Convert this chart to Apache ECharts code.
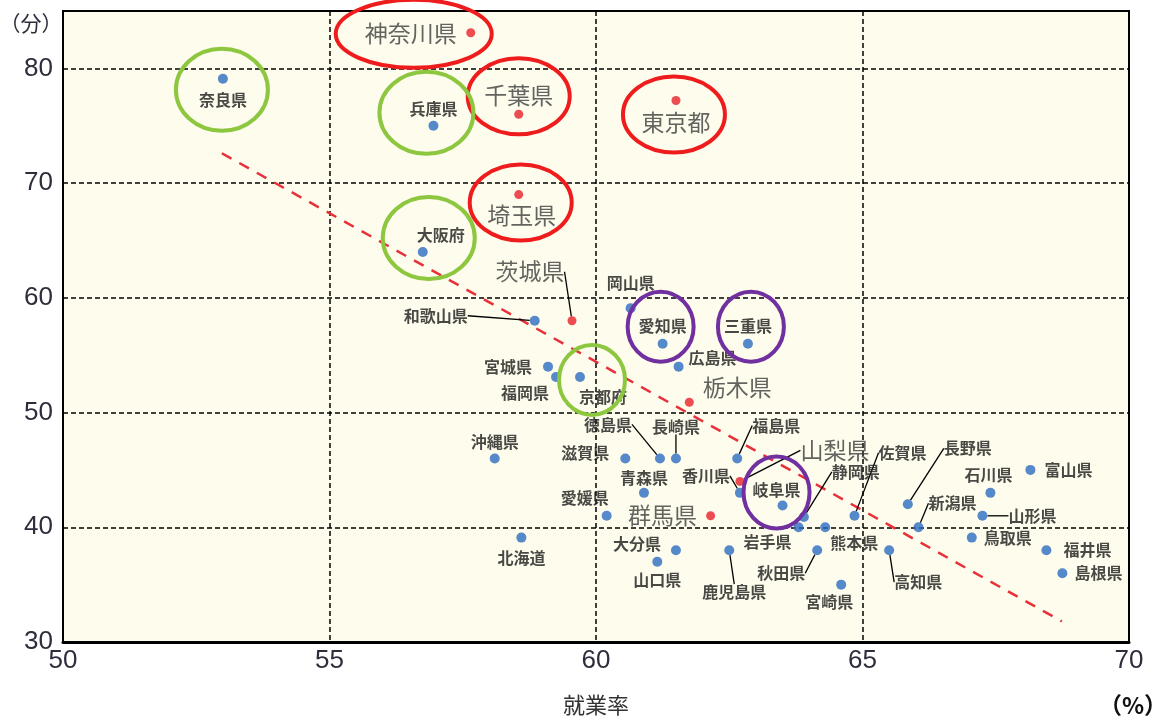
<!DOCTYPE html>
<html>
<head>
<meta charset="utf-8">
<script src="https://cdn.jsdelivr.net/npm/echarts@6/dist/echarts.min.js"></script>
<style>
  html, body { margin: 0; padding: 0; background: #fff; }
  #main { width: 1162px; height: 723px; }
</style>
</head>
<body>
<div id="main"></div>
<script>
// 都道府県別 就業率(%) と 通勤時間(分)
var prefNames = ['北海道','青森県','岩手県','宮城県','秋田県','山形県','福島県','茨城県','栃木県','群馬県',
  '埼玉県','千葉県','東京都','神奈川県','新潟県','富山県','石川県','福井県','山梨県','長野県',
  '岐阜県','静岡県','愛知県','三重県','滋賀県','京都府','大阪府','兵庫県','奈良県','和歌山県',
  '鳥取県','島根県','岡山県','広島県','山口県','徳島県','香川県','愛媛県','高知県','福岡県',
  '佐賀県','長崎県','熊本県','大分県','宮崎県','鹿児島県','沖縄県'];
var employRate = [58.6, 60.9, 63.8, 59.1, 64.15, 67.25, 62.65, 59.55, 61.75, 62.15,
  58.55, 58.55, 61.5, 57.65, 66.05, 68.15, 67.4, 68.45, 62.7, 65.85,
  63.5, 63.9, 61.25, 62.85, 60.55, 59.7, 56.75, 56.95, 53.0, 58.85,
  67.05, 68.75, 60.65, 61.55, 61.15, 61.2, 62.7, 60.2, 65.5, 59.25,
  64.85, 61.5, 64.3, 61.5, 64.6, 62.5, 58.1];
var commuteMin = [39.1, 43.0, 40.0, 54.0, 38.0, 41.0, 46.0, 58.0, 50.9, 41.0,
  69.0, 76.0, 77.2, 83.1, 40.0, 45.0, 43.0, 38.0, 44.0, 42.0,
  41.9, 40.9, 56.0, 56.0, 46.0, 53.1, 64.0, 75.0, 79.1, 58.0,
  39.1, 36.0, 59.1, 54.0, 37.0, 46.0, 43.0, 41.0, 38.0, 53.1,
  41.0, 46.0, 40.0, 38.0, 35.0, 38.0, 46.0];
var kantoPrefs = ['茨城県','栃木県','群馬県','埼玉県','千葉県','東京都','神奈川県','山梨県'];
var xTicks = [50, 55, 60, 65, 70];
var yTicks = [30, 40, 50, 60, 70, 80];
var trendX = [52.98, 68.74];
var trendY = [72.6, 31.8];

// ラベル位置 [dx, dy, 引出線]
var labelPos = {
  '北海道':[0,20], '青森県':[0,-15], '岩手県':[-31,15], '宮城県':[-40,0], '秋田県':[-36,23,1],
  '山形県':[50,0,1], '福島県':[39,-33,1], '茨城県':[-42,-49,1], '栃木県':[48,-15], '群馬県':[-48,-1],
  '埼玉県':[3,21], '千葉県':[0,-19], '東京都':[0,22], '神奈川県':[-60,0], '新潟県':[34,-24,1],
  '富山県':[38,0], '石川県':[-2,-18], '福井県':[41,0], '山梨県':[95,-31,1], '長野県':[60,-56,1],
  '岐阜県':[-6,-16], '静岡県':[52,-45,1], '愛知県':[0,-18], '三重県':[0,-18], '滋賀県':[-40,-6],
  '京都府':[23,20], '大阪府':[18,-17], '兵庫県':[0,-17], '奈良県':[0,21], '和歌山県':[-99,-5,1],
  '鳥取県':[36,0], '島根県':[36,0], '岡山県':[0,-25], '広島県':[34,-9], '山口県':[0,18],
  '徳島県':[-52,-34,1], '香川県':[-34,-17,1], '愛媛県':[-22,-18], '高知県':[29,32,1], '福岡県':[-31,16],
  '佐賀県':[48,-63,1], '長崎県':[0,-32,1], '熊本県':[29,16], '大分県':[-39,-6], '宮崎県':[-12,17],
  '鹿児島県':[5,42,1], '沖縄県':[0,-17]
};

// 囲み (点からのずれ, 半径)
var rings = [
  { name: '神奈川県', dx: -57, dy: 1, rx: 78, ry: 34, color: '#ee1c1c' },
  { name: '千葉県', dx: 0, dy: -18, rx: 51, ry: 38, color: '#ee1c1c' },
  { name: '東京都', dx: -2, dy: 14, rx: 51, ry: 38, color: '#ee1c1c' },
  { name: '埼玉県', dx: 2, dy: 8, rx: 51, ry: 38, color: '#ee1c1c' },
  { name: '奈良県', dx: -1, dy: 11, rx: 46, ry: 41, color: '#8dc63f' },
  { name: '兵庫県', dx: -7, dy: -13, rx: 47, ry: 41, color: '#8dc63f' },
  { name: '大阪府', dx: 6, dy: -14, rx: 46, ry: 41, color: '#8dc63f' },
  { name: '京都府', dx: 12, dy: 3, rx: 33, ry: 35, color: '#8dc63f' },
  { name: '愛知県', dx: -2, dy: -17, rx: 33, ry: 35, color: '#7030a0' },
  { name: '三重県', dx: 3, dy: -17, rx: 33, ry: 35, color: '#7030a0' },
  { name: '岐阜県', dx: -6, dy: -13, rx: 33, ry: 36, color: '#7030a0' }
];

var blueData = [], redData = [];
prefNames.forEach(function (n, i) {
  var p = labelPos[n] || [0, 0];
  var item = { name: n, value: [employRate[i], commuteMin[i]], labelLine: { show: !!p[2] } };
  if (kantoPrefs.indexOf(n) >= 0) redData.push(item); else blueData.push(item);
});

var smallLabel = {
  show: true, position: 'inside', formatter: '{b}',
  fontFamily: 'Noto Sans CJK JP', fontSize: 16, fontWeight: 'bold', color: '#1a1a1a'
};
var bigLabel = {
  show: true, position: 'inside', formatter: '{b}',
  fontFamily: 'Noto Sans CJK JP', fontSize: 23, color: '#3c3c3c'
};
var layoutFn = function (params) {
  var p = labelPos[params.text] || [0, 0];
  return { dx: p[0], dy: p[1] };
};
var lineOpt = { show: false, lineStyle: { color: '#000', width: 1.3 } };

var myChart = echarts.init(document.getElementById('main'));
var option = {
  animation: false,
  backgroundColor: '#fff',
  grid: {
    left: 63, right: 33, top: 11, bottom: 81,
    show: true, backgroundColor: '#fefcec', borderColor: '#000', borderWidth: 2
  },
  xAxis: {
    type: 'value', min: 50, max: 70, interval: 5,
    name: '就業率', nameLocation: 'middle', nameGap: 52,
    nameTextStyle: { fontFamily: 'Noto Sans CJK JP', fontSize: 22, color: '#333' },
    axisLine: { show: true, lineStyle: { color: '#000', width: 3 } },
    axisTick: { show: false },
    axisLabel: { margin: 6, fontFamily: 'Liberation Sans', fontSize: 26, color: '#2d2d3c',
      formatter: function (v) { return xTicks.indexOf(v) >= 0 ? v : ''; } },
    splitLine: { show: true, lineStyle: { color: '#000', type: [5, 3], width: 1.5 } }
  },
  yAxis: {
    type: 'value', min: 30, max: 85, interval: 10,
    axisLine: { show: true, lineStyle: { color: '#000', width: 2 } },
    axisTick: { show: false },
    axisLabel: { margin: 10, fontFamily: 'Liberation Sans', fontSize: 26, color: '#2d2d3c',
      formatter: function (v) { return yTicks.indexOf(v) >= 0 ? v : ''; } },
    splitLine: { show: true, lineStyle: { color: '#000', type: [5, 3], width: 1.5 } }
  },
  series: [
    {
      type: 'line', data: [[trendX[0], trendY[0]], [trendX[1], trendY[1]]],
      symbol: 'none', silent: true, z: 1,
      lineStyle: { color: '#e8303a', width: 2.5, type: [11, 9] }
    },
    {
      type: 'scatter', data: blueData, symbolSize: 10, z: 3,
      itemStyle: { color: '#2a6cc0' },
      label: smallLabel, labelLayout: layoutFn, labelLine: lineOpt,
      emphasis: { disabled: true }
    },
    {
      type: 'scatter', data: redData, symbolSize: 9, z: 3,
      itemStyle: { color: '#e8202a' },
      label: bigLabel, labelLayout: layoutFn, labelLine: lineOpt,
      emphasis: { disabled: true }
    }
  ]
};

if (option && typeof option === "object") {
  myChart.setOption(option, true);
}

// 囲みと単位
var graphics = [
  { type: 'text', x: 31, y: 23, style: { text: '（分）', font: '21px "Noto Sans CJK JP"', fill: '#2d2d3c',
    align: 'center', verticalAlign: 'middle' } },
  { type: 'text', x: 1133, y: 705, style: { text: '（%）', font: 'bold 23px "Noto Sans CJK JP"', fill: '#111',
    align: 'center', verticalAlign: 'middle' } }
];
rings.forEach(function (r) {
  var i = prefNames.indexOf(r.name);
  var c = myChart.convertToPixel({ gridIndex: 0 }, [employRate[i], commuteMin[i]]);
  graphics.push({
    type: 'ellipse', z: 100, silent: true,
    shape: { cx: c[0] + r.dx, cy: c[1] + r.dy, rx: r.rx, ry: r.ry },
    style: { fill: 'none', stroke: r.color, lineWidth: 4 }
  });
});
myChart.setOption({ graphic: graphics });
</script>
</body>
</html>
